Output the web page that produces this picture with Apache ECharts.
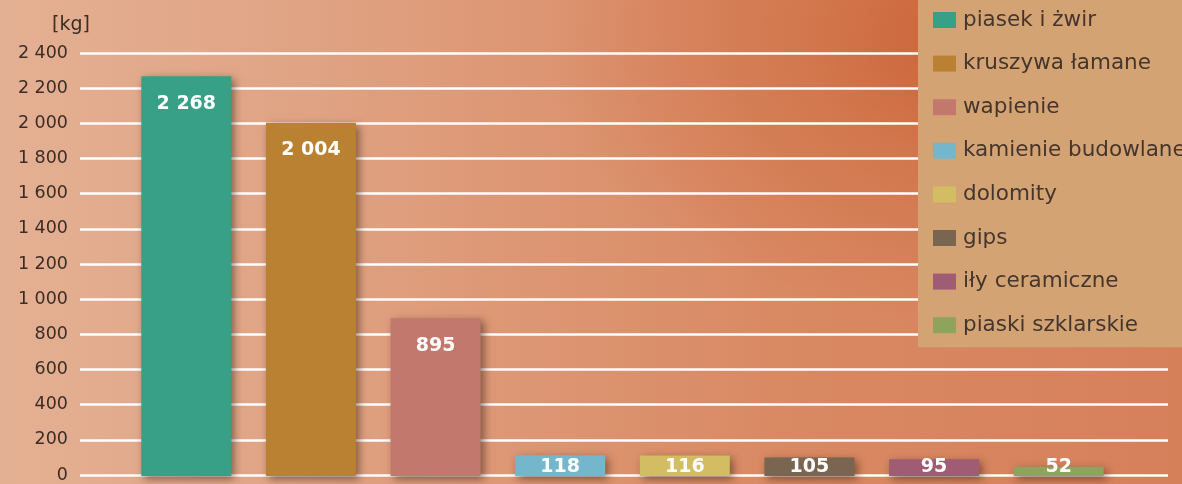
<!DOCTYPE html>
<html>
<head>
<meta charset="utf-8">
<script src="https://cdn.jsdelivr.net/npm/echarts@6/dist/echarts.min.js"></script>
<style>
html,body{margin:0;padding:0;}
#chart{width:1182px;height:484px;
background:
 radial-gradient(ellipse 40% 60% at 86% 8%, rgba(200,92,48,0.95) 0%, rgba(205,105,62,0.55) 45%, rgba(215,130,95,0) 100%),
 linear-gradient(90deg, #e4b093 0%, #e0a484 25%, #dd9876 42%, #d98a63 65%, #d6805a 100%);}
</style>
</head>
<body>
<div id="chart"></div>
<script>
const categories = ['piasek i żwir','kruszywa łamane','wapienie','kamienie budowlane','dolomity','gips','iły ceramiczne','piaski szklarskie'];
const values = [2268, 2004, 895, 118, 116, 105, 95, 52];
const colors = ['#37a086','#ba8132','#c3786d','#74b7cc','#d2bd62','#7a6550','#a05c75','#8ea35c'];
const yTicks = [0, 2400, 200];
const unitLabel = '[kg]';

function fmt(v){ return String(v).replace(/\B(?=(\d{3})+(?!\d))/g, ' '); }

const FONT = '"DejaVu Sans", "Open Sans", sans-serif';
const series = categories.map((name, i) => ({
  name: name,
  type: 'bar',
  stack: 'all',
  xAxisIndex: 1,
  yAxisIndex: 1,
  barWidth: 90,
  itemStyle: { color: colors[i], shadowBlur: 8, shadowColor: 'rgba(40,20,10,0.5)', shadowOffsetX: 3, shadowOffsetY: 3 },
  label: {
    show: true,
    position: values[i] > 300 ? 'insideTop' : 'insideBottom',
    distance: values[i] > 300 ? 18 : -1,
    color: '#ffffff',
    fontFamily: FONT,
    fontWeight: 'bold',
    fontSize: 19,
    formatter: p => fmt(p.value)
  },
  data: categories.map((c, j) => j === i ? values[i] : '-')
}));

const chart = echarts.init(document.getElementById('chart'), null, {renderer: 'canvas'});
chart.setOption({
  backgroundColor: 'transparent',
  animation: false,
  grid: [
    { left: 80, right: 14, top: 53, bottom: 8 },
    { left: 124, width: 997, top: 53, bottom: 8 }
  ],
  xAxis: [
    { type: 'value', gridIndex: 0, show: false, min: 0, max: 1 },
    { type: 'category', gridIndex: 1, data: categories, show: false }
  ],
  yAxis: [
    {
      type: 'value', gridIndex: 0, min: yTicks[0], max: yTicks[1], interval: yTicks[2],
      name: unitLabel,
      nameLocation: 'end',
      nameGap: 18,
      nameTextStyle: { color: '#3a2d26', fontFamily: FONT, fontSize: 19, align: 'center', padding: [0, 18, 0, 0] },
      axisLine: { show: false }, axisTick: { show: false },
      axisLabel: { color: '#3a2d26', fontFamily: FONT, fontSize: 17.5, margin: 12, formatter: v => fmt(v) },
      splitLine: { lineStyle: { color: '#ffffff', width: 2.5 } }
    },
    { type: 'value', gridIndex: 1, min: yTicks[0], max: yTicks[1], interval: yTicks[2], show: false, splitLine: { show: false } }
  ],
  legend: {
    orient: 'vertical',
    left: 918,
    top: 0,
    padding: [9, 40, 11, 15],
    backgroundColor: '#d4a374',
    itemWidth: 23,
    itemHeight: 16,
    itemGap: 21.6,
    icon: 'rect',
    textStyle: { color: '#45362d', fontFamily: FONT, fontSize: 21.5, lineHeight: 20, padding: [0, 0, 0, 2] },
    data: categories
  },
  series: series
});
</script>
</body>
</html>
